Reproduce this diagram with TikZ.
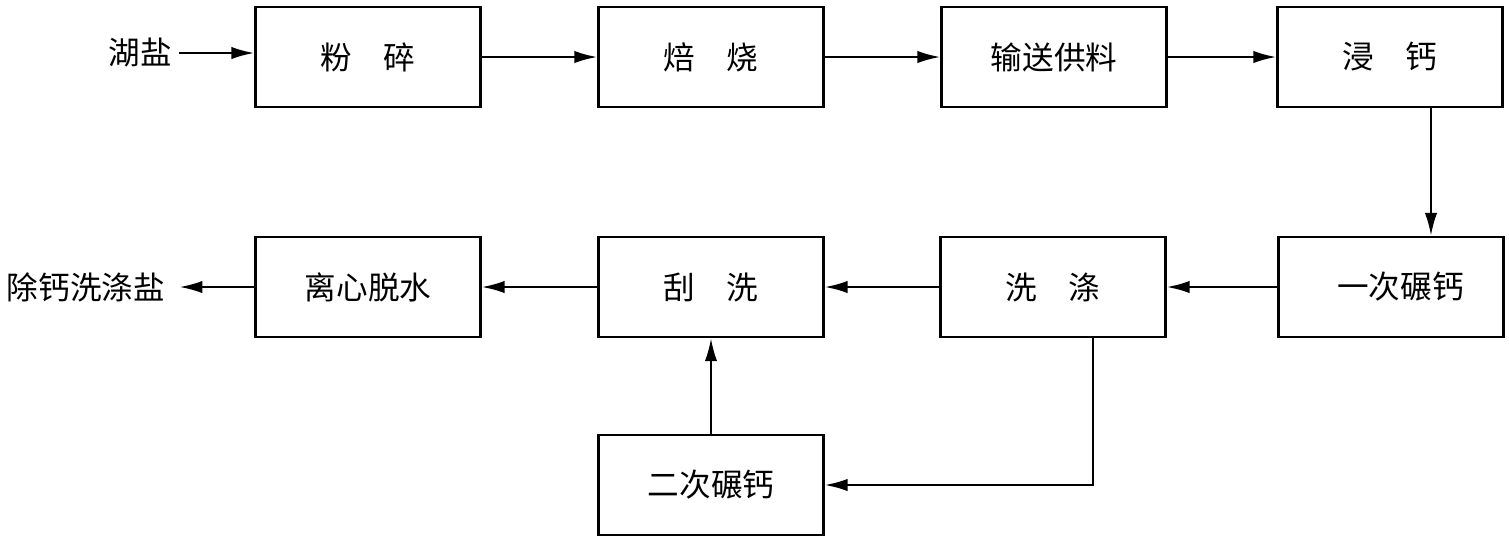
\documentclass[tikz,border=0pt]{standalone}
\usepackage{fontspec}
\setmainfont{Noto Sans CJK SC}
\usetikzlibrary{arrows.meta,calc}
\tikzset{
  procbox/.style={draw, line width=1.4pt, minimum width=4.5cm, minimum height=2cm, inner sep=0pt, font=\fontsize{18pt}{20pt}\selectfont},
  lbl/.style={inner sep=0pt, font=\fontsize{18pt}{20pt}\selectfont},
  arr/.style={line width=1.3pt, -{Latex[length=13pt,width=7pt]}}
}
\newcommand{\gap}{\hspace{1em}}
\begin{document}
\begin{tikzpicture}[x=0.02cm, y=-0.02cm]
\path[use as bounding box] (0,0) rectangle (1509,539);
\node[procbox] (A) at (368,57) {粉\gap 碎};
\node[procbox] (B) at (711,57) {焙\gap 烧};
\node[procbox] (C) at (1054,57) {输送供料};
\node[procbox] (D) at (1390,57) {浸\gap 钙};
\node[procbox] (E) at (1391,287) {\hspace{0.6em}一次碾钙};
\node[procbox] (F) at (1053,287) {洗\gap 涤};
\node[procbox] (G) at (711,287) {刮\gap 洗};
\node[procbox] (H) at (368,287) {离心脱水};
\node[procbox] (I) at (711,485) {二次碾钙};
\node[lbl] (in) at (140,53) {湖盐};
\node[lbl] (out) at (86,287) {除钙洗涤盐};
\draw[arr] ([xshift=4pt]in.east) -- (in.east -| A.west);
\draw[arr] (A.east) -- (B.west);
\draw[arr] (B.east) -- (C.west);
\draw[arr] (C.east) -- (D.west);
\draw[arr] ([xshift=0.82cm]D.south) -- ([xshift=0.82cm]D.south |- E.north);
\draw[arr] (E.west) -- (F.east);
\draw[arr] (F.west) -- (G.east);
\draw[arr] (G.west) -- (H.east);
\draw[arr] (H.west) -- ([xshift=8pt]out.east);
\draw[arr] ([xshift=0.8cm]F.south) |- (I.east);
\draw[arr] (I.north) -- (G.south);
\end{tikzpicture}
\end{document}
